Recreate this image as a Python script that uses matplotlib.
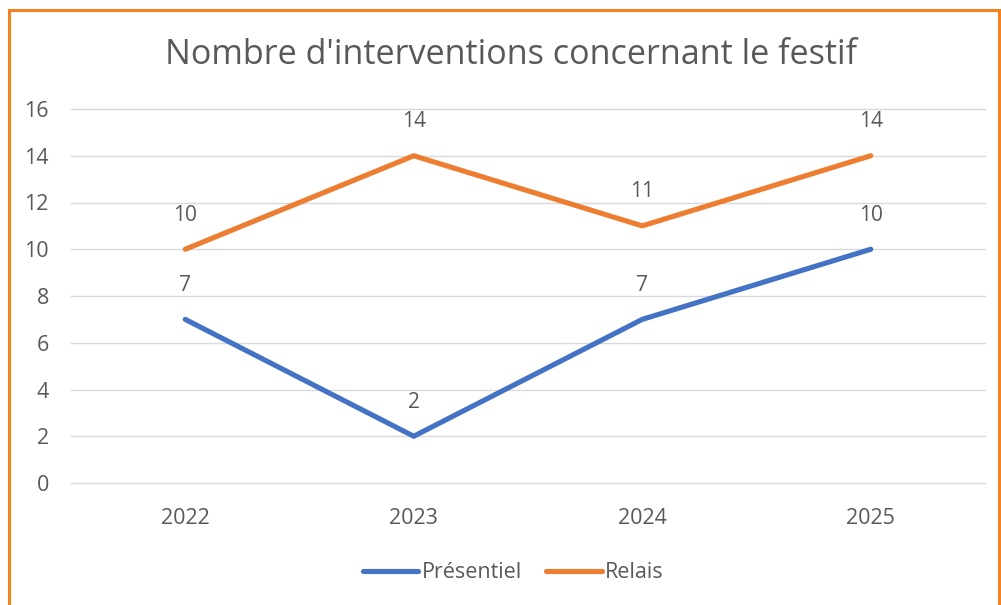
import matplotlib
matplotlib.use("Agg")
import matplotlib.pyplot as plt
from matplotlib.patches import Rectangle

years = ["2022", "2023", "2024", "2025"]
presentiel = [7, 2, 7, 10]
relais = [10, 14, 11, 14]
yticks = [0, 2, 4, 6, 8, 10, 12, 14, 16]

plt.rcParams['font.family'] = ['Open Sans', 'DejaVu Sans']
gray = '#595959'
blue = '#4472C4'
orange = '#ED7D31'

W, H = 1001, 605
fig = plt.figure(figsize=(W / 100, H / 100), dpi=100)
ax = fig.add_axes([71 / W, 1 - 483 / H, (985 - 71) / W, (483 - 109) / H])

x = list(range(len(years)))
ax.plot(x, presentiel, color=blue, lw=3.7, solid_capstyle='round', label='Présentiel')
ax.plot(x, relais, color=orange, lw=3.7, solid_capstyle='round', label='Relais')
for series in (presentiel, relais):
    for xi, v in zip(x, series):
        ax.annotate(str(v), (xi, v), xytext=(0, 24.5), textcoords='offset points',
                    ha='center', va='center', fontsize=15, color=gray)

ax.set_xlim(-0.5, 3.5)
ax.set_ylim(0, 16)
ax.set_yticks(yticks)
ax.set_xticks(x)
ax.set_xticklabels(years)
ax.yaxis.grid(True, color='#D9D9D9', lw=1)
for gl in ax.get_ygridlines():
    gl.set_clip_on(False)
ax.set_axisbelow(True)
for s in ax.spines.values():
    s.set_visible(False)
ax.tick_params(axis='both', length=0, labelsize=15.5, colors=gray)
ax.tick_params(axis='y', pad=16)
ax.tick_params(axis='x', pad=18)

fig.text(511 / W, 1 - 55 / H, "Nombre d'interventions concernant le festif",
         ha='center', va='center', fontsize=24.6, color=gray)

leg = fig.legend(loc='center', bbox_to_anchor=(513 / W, 1 - 573 / H), ncol=2,
                 frameon=False, fontsize=15.5, handlelength=2.6, columnspacing=1.1,
                 handletextpad=0.15)
for t in leg.get_texts():
    t.set_color(gray)

fig.patches.append(Rectangle((9 / W, -0.1), (999 - 9) / W, 1 - 10 / H + 0.1,
                             transform=fig.transFigure, fill=False,
                             edgecolor='#F58220', lw=2.2))

fig.savefig('out.png', dpi=100)
